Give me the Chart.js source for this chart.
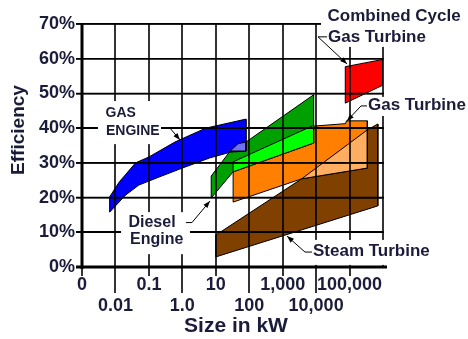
<!DOCTYPE html>
<html>
<head>
<meta charset="utf-8">
<script src="https://cdn.jsdelivr.net/npm/chart.js@4.4.1/dist/chart.umd.min.js"></script>
<style>
  html, body { margin: 0; padding: 0; background: #fff; }
  #wrap { width: 468px; height: 339px; }
</style>
</head>
<body>
<div id="wrap"><canvas id="chart" width="468" height="339"></canvas></div>
<script>
// Size axis: one gridline per decade, 0.001 kW (labelled "0") to 1,000,000 kW
const sizeTicks = [0.001, 0.01, 0.1, 1, 10, 100, 1000, 10000, 100000, 1000000];
const sizeTickLabels = ['0', '0.01', '0.1', '1.0', '10', '100', '1,000', '10,000', '100,000', ''];
const efficiencyTicks = [0, 10, 20, 30, 40, 50, 60, 70];

// Technology regions: outline vertices as size (kW) and efficiency (%)
const steamSize = [10, 10, 3700, 340000, 700000, 700000];
const steamEff  = [2.9, 9.2, 25.4, 39.5, 41.2, 17.6];

const gasTurbineSize = [33, 9000, 76000, 81000, 340000, 340000, 3700, 33];
const gasTurbineEff  = [30.3, 40.6, 41.3, 42.1, 42.1, 28.5, 25.4, 18.7];

const turbineSteamOverlapSize = [3700, 340000, 340000];
const turbineSteamOverlapEff  = [25.4, 39.5, 28.5];

const dieselSize = [7.3, 7.3, 27, 46, 80, 8400, 8400, 33];
const dieselEff  = [19.9, 26.2, 33.4, 35.5, 36.0, 49.6, 35.7, 27.4];

const dieselTurbineOverlapSize = [33, 8400, 8400, 33];
const dieselTurbineOverlapEff  = [30.3, 40.8, 35.7, 27.4];

const gasEngineSize = [0.0067, 0.0067, 0.013, 0.04, 0.1, 0.6, 5, 80, 80, 28, 6.5, 1, 0.2, 0.05, 0.02];
const gasEngineEff  = [15.8, 20.2, 24.5, 30.0, 31.7, 36.0, 40.0, 42.6, 33.4, 33.1, 31.4, 28.5, 25.9, 23.6, 20.7];

const engineDieselOverlapSize = [27, 46, 80, 80];
const engineDieselOverlapEff  = [33.4, 35.5, 36.0, 33.4];

const combinedCycleSize = [74500, 1000000, 1000000, 74500];
const combinedCycleEff  = [57.7, 59.8, 52.4, 47.2];

// Callouts: text lines [text, kW, %], white panel [kW1, %1, kW2, %2], leader polyline ending in an arrow
const callouts = [
  { size: 17, lines: [['Combined Cycle', 21900, 72.3], ['Gas Turbine', 22700, 66.3]],
    panel: [14000, 77, 3e8, 63.4], leader: [[21200, 66.3], [11400, 66.3], [84000, 58.5]] },
  { size: 17, lines: [['Gas Turbine', 356000, 46.7]],
    panel: [220000, 49.0, 3e8, 43.5], leader: [[332000, 46.4], [220000, 46.4], [84000, 42.1]] },
  { size: 14, lines: [['GAS', 0.00505, 44.4], ['ENGINE', 0.00522, 39.0]],
    panel: [0.003, 47.8, 0.23, 35.4], leader: [[0.23, 40.0], [0.428, 40.0], [0.851, 36.6]] },
  { size: 16, lines: [['Diesel', 0.0245, 12.8], ['Engine', 0.0272, 7.8]],
    panel: [0.0147, 15.8, 1.69, 3.7], leader: [[1.29, 12.8], [1.94, 12.8], [6.71, 19.0]] },
  { size: 17, lines: [['Steam Turbine', 8070, 4.6]],
    panel: [4660, 7.8, 3e8, 0.6], leader: [[7530, 4.3], [4660, 4.3], [1350, 8.9]] }
];

const TEXT_COLOR = '#1b1b3a';
const FAMILY = '"Liberation Sans", Arial, sans-serif';

function region(label, size, eff, color) {
  const pts = size.map((s, i) => ({ x: s, y: eff[i] }));
  pts.push({ x: size[0], y: eff[0] });
  return {
    label, data: pts, backgroundColor: color, borderColor: '#000', borderWidth: 1,
    fill: 'shape', pointRadius: 0, pointHoverRadius: 0, tension: 0
  };
}

// bottom to top
const layers = [
  region('Steam Turbine', steamSize, steamEff, '#804000'),
  region('Gas Turbine', gasTurbineSize, gasTurbineEff, '#ff8000'),
  region('Gas Turbine / Steam Turbine', turbineSteamOverlapSize, turbineSteamOverlapEff, '#ffae62'),
  region('Diesel Engine', dieselSize, dieselEff, '#00a000'),
  region('Diesel Engine / Gas Turbine', dieselTurbineOverlapSize, dieselTurbineOverlapEff, '#00ff00'),
  region('Gas Engine', gasEngineSize, gasEngineEff, '#0000ff'),
  region('Gas Engine / Diesel Engine', engineDieselOverlapSize, engineDieselOverlapEff, '#7070f0'),
  region('Combined Cycle Gas Turbine', combinedCycleSize, combinedCycleEff, '#ff0000')
];
layers.forEach((d, i) => { d.order = -i; });

// Grid over the regions, white callout panels, heavy axes, callouts and axis titles
const decor = {
  id: 'decor',
  afterDraw(chart) {
    const { ctx, chartArea: a, scales: { x, y } } = chart;
    const px = v => x.getPixelForValue(v);
    const py = v => y.getPixelForValue(v);
    const top = Math.round(a.top), bottom = Math.round(a.bottom);
    const left = Math.round(a.left), right = Math.round(a.right);
    ctx.save();
    ctx.setLineDash([]);

    // gridlines; horizontal ones carry the short ticks left of the efficiency axis
    ctx.strokeStyle = '#000000';
    ctx.lineWidth = 1.6;
    efficiencyTicks.forEach(e => {
      const Y = py(e);
      ctx.beginPath(); ctx.moveTo(left - 6, Y); ctx.lineTo(right + 1, Y + 0.01); ctx.stroke();
    });
    sizeTicks.forEach(v => {
      const X = Math.round(px(v));
      ctx.beginPath(); ctx.moveTo(X, top - 1); ctx.lineTo(X, bottom); ctx.stroke();
    });

    ctx.fillStyle = '#ffffff';
    for (const c of callouts) {
      const [k1, e1, k2, e2] = c.panel;
      const X1 = px(k1), X2 = px(k2), Y1 = py(e1), Y2 = py(e2);
      ctx.fillRect(Math.min(X1, X2), Math.min(Y1, Y2), Math.abs(X2 - X1), Math.abs(Y2 - Y1));
    }

    // heavy axes
    ctx.fillStyle = '#000000';
    ctx.fillRect(left - 1.5, top - 1, 3, bottom - top + 3);
    ctx.fillRect(left - 6, bottom - 1.5, right - left + 10, 3);

    // x tick marks, longer ones for the lower label row
    ctx.lineWidth = 1.6;
    sizeTicks.forEach((v, i) => {
      if (!sizeTickLabels[i]) return;
      const X = Math.round(px(v));
      ctx.beginPath(); ctx.moveTo(X, bottom); ctx.lineTo(X, bottom + (i % 2 ? 26 : 9)); ctx.stroke();
    });

    ctx.lineWidth = 1;
    for (const c of callouts) {
      const pts = c.leader.map(([k, e]) => [px(k), py(e)]);
      ctx.beginPath();
      pts.forEach(([X, Y], i) => (i ? ctx.lineTo(X, Y) : ctx.moveTo(X, Y)));
      ctx.stroke();
      const [x1, y1] = pts[pts.length - 2];
      const [x2, y2] = pts[pts.length - 1];
      const t = Math.atan2(y2 - y1, x2 - x1), L = 7, W = 2.6;
      ctx.beginPath();
      ctx.moveTo(x2, y2);
      ctx.lineTo(x2 - L * Math.cos(t) + W * Math.sin(t), y2 - L * Math.sin(t) - W * Math.cos(t));
      ctx.lineTo(x2 - L * Math.cos(t) - W * Math.sin(t), y2 - L * Math.sin(t) + W * Math.cos(t));
      ctx.closePath();
      ctx.fill();
    }
    ctx.fillStyle = TEXT_COLOR;
    ctx.textBaseline = 'middle';
    ctx.textAlign = 'left';
    for (const c of callouts) {
      ctx.font = `bold ${c.size}px ${FAMILY}`;
      for (const [txt, k, e] of c.lines) ctx.fillText(txt, px(k), py(e));
    }

    ctx.font = `bold 21px ${FAMILY}`;
    ctx.textAlign = 'center';
    ctx.fillText('Size in kW', a.left + 154, a.bottom + 59);
    ctx.save();
    ctx.translate(a.left - 63.5, a.top + 106);
    ctx.rotate(-Math.PI / 2);
    ctx.font = `bold 19px ${FAMILY}`;
    ctx.fillText('Efficiency', 0, 0);
    ctx.restore();

    ctx.restore();
  }
};

new Chart(document.getElementById('chart'), {
  type: 'line',
  data: { datasets: layers },
  plugins: [decor],
  options: {
    responsive: false,
    animation: false,
    events: [],
    layout: { padding: { top: 24, right: 85, left: 0, bottom: 0 } },
    plugins: { legend: { display: false }, tooltip: { enabled: false }, title: { display: false } },
    scales: {
      x: {
        type: 'logarithmic',
        min: sizeTicks[0],
        max: sizeTicks[sizeTicks.length - 1],
        afterBuildTicks: s => { s.ticks = sizeTicks.map(v => ({ value: v })); },
        afterFit: s => { s.height = 72; },
        grid: { display: false, drawTicks: false },
        border: { display: false },
        ticks: {
          autoSkip: false, maxRotation: 0, minRotation: 0, padding: 7,
          color: TEXT_COLOR, font: { family: FAMILY, size: 18, weight: 'bold' },
          callback: (v, i) => (i % 2 ? ['', sizeTickLabels[i]] : sizeTickLabels[i])
        }
      },
      y: {
        type: 'linear',
        min: efficiencyTicks[0],
        max: efficiencyTicks[efficiencyTicks.length - 1],
        afterBuildTicks: s => { s.ticks = efficiencyTicks.map(v => ({ value: v })); },
        afterFit: s => { s.width = 82; },
        grid: { display: true, z: 1, color: '#000000', lineWidth: 1.6, drawTicks: true, tickLength: 6, tickColor: '#000000', tickWidth: 1.6 },
        border: { display: false },
        ticks: {
          padding: 1, color: TEXT_COLOR, font: { family: FAMILY, size: 18, weight: 'bold' },
          callback: v => v + '%'
        }
      }
    }
  }
});
</script>
</body>
</html>
